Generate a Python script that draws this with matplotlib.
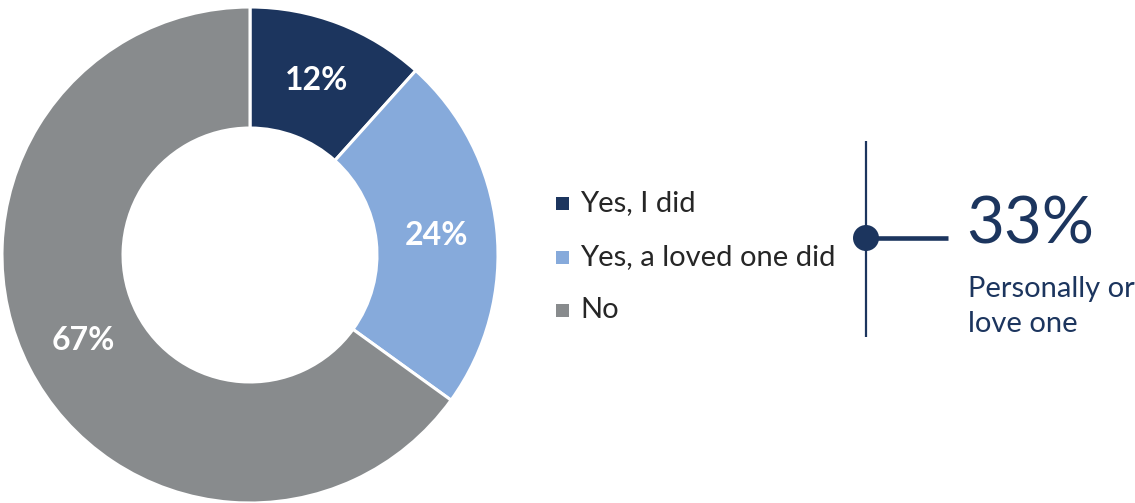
import matplotlib
matplotlib.use("Agg")
import matplotlib.pyplot as plt
from matplotlib.patches import Rectangle, Circle

categories = ["Yes, I did", "Yes, a loved one did", "No"]
values = [12, 24, 67]
colors = ["#1C355E", "#86AADB", "#888B8D"]
total_value = "33%"
total_caption = ["Personally or", "love one"]

W, H = 1135, 503
fig = plt.figure(figsize=(W / 100, H / 100), dpi=100)
fig.patch.set_facecolor("white")

# Donut
ax = fig.add_axes([2 / W, 0, 496 / W, 496 / H])
vsum = sum(values)
wedges, texts, autotexts = ax.pie(
    values, colors=colors, startangle=90, counterclock=False,
    wedgeprops=dict(width=0.488, edgecolor="white", linewidth=2.2),
    autopct=lambda p: f"{p * vsum / 100:.0f}%", pctdistance=0.755,
    textprops=dict(color="white", fontsize=23, fontweight="bold", family="Lato"),
)
for t in autotexts:
    t.set_ha("center"); t.set_va("center")
ax.set_xlim(-1, 1); ax.set_ylim(-1, 1)
ax.set_aspect("equal")
ax.axis("off")

# Overlay in pixel coords
ov = fig.add_axes([0, 0, 1, 1])
ov.set_xlim(0, W); ov.set_ylim(H, 0)
ov.axis("off")

legend_y = [203, 257, 310]
for c, lab, y in zip(colors, categories, legend_y):
    ov.add_patch(Rectangle((556, y - 6.5), 13, 13, facecolor=c, edgecolor="none"))
    ov.text(580, y, lab, fontsize=21, color="#262626", va="center", ha="left", family="Lato")

navy = "#1C355E"
ov.plot([866, 866], [141, 337], color=navy, lw=1.6, solid_capstyle="butt")
ov.plot([866, 948], [238, 238], color=navy, lw=3.3, solid_capstyle="butt")
ov.add_patch(Circle((866, 238), 13, facecolor=navy, edgecolor="none", zorder=3))
ov.text(966, 243, total_value, fontsize=47, color=navy, va="baseline", ha="left",
        family="Lato")
ov.text(968, 297, total_caption[0], fontsize=21, color=navy, va="baseline", ha="left", family="Lato")
ov.text(968, 332, total_caption[1], fontsize=21, color=navy, va="baseline", ha="left", family="Lato")

fig.savefig("out.png", dpi=100, facecolor="white")
